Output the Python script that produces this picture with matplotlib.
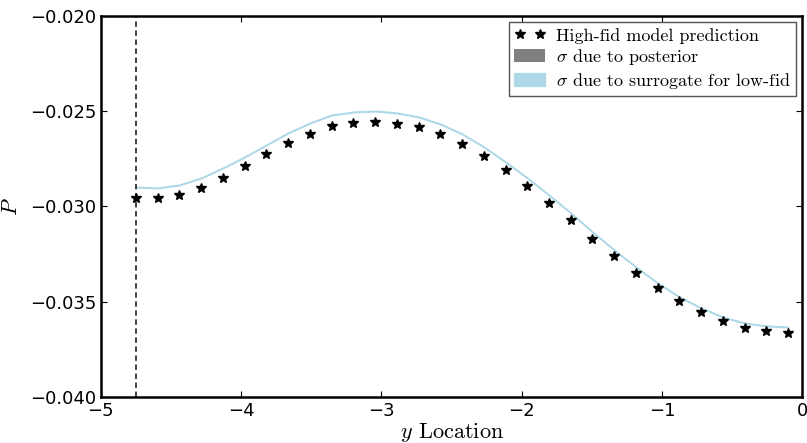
import numpy as np
import matplotlib
matplotlib.use('Agg')
import matplotlib.pyplot as plt

# y locations of the high-fid points (also where the low-fid mean is evaluated)
y_loc = [-4.75, -4.595, -4.44, -4.285, -4.13, -3.975, -3.82, -3.665, -3.51, -3.355,
         -3.2, -3.045, -2.89, -2.735, -2.58, -2.425, -2.27, -2.115, -1.96, -1.805,
         -1.65, -1.495, -1.34, -1.185, -1.03, -0.875, -0.72, -0.565, -0.41, -0.255, -0.1]

# high-fid model prediction
p_high = [-0.02955, -0.02955, -0.02939, -0.02903, -0.02850, -0.02787, -0.02724, -0.02667,
          -0.02619, -0.02577, -0.02562, -0.02556, -0.02567, -0.02583, -0.02619, -0.02672,
          -0.02735, -0.02808, -0.02892, -0.02982, -0.03071, -0.03171, -0.03260, -0.03349,
          -0.03428, -0.03496, -0.03554, -0.03601, -0.03638, -0.03654, -0.03665]

# low-fid posterior mean
p_mean = [-0.02898, -0.02903, -0.02887, -0.02850, -0.02798, -0.02740, -0.02677, -0.02614,
          -0.02562, -0.02520, -0.02504, -0.02499, -0.02509, -0.02530, -0.02567, -0.02619,
          -0.02687, -0.02766, -0.02850, -0.02940, -0.03034, -0.03134, -0.03228, -0.03318,
          -0.03402, -0.03475, -0.03533, -0.03580, -0.03612, -0.03627, -0.03633]

sig_post = 0.00001
sig_surr = 0.00002
y_bound = -4.75

plt.rcParams['mathtext.fontset'] = 'cm'
plt.rcParams['xtick.direction'] = 'in'
plt.rcParams['ytick.direction'] = 'in'
plt.rcParams['xtick.top'] = True
plt.rcParams['ytick.right'] = True
plt.rcParams['xtick.major.size'] = 4
plt.rcParams['ytick.major.size'] = 4

fig = plt.figure(figsize=(8.07, 4.43), dpi=100)
ax = fig.add_axes([0.125, 0.104, 0.869, 0.860])

x = np.array(y_loc)
m = np.array(p_mean)
ax.fill_between(x, m - sig_surr, m + sig_surr, facecolor='lightblue', lw=0.9,
                edgecolor='lightblue', label=r'$\sigma$ due to surrogate for low-fid', zorder=2)
ax.fill_between(x, m - sig_post, m + sig_post, color='grey', lw=0,
                label=r'$\sigma$ due to posterior', zorder=1)
ax.plot(y_loc, p_high, 'k*', ms=7, label='High-fid model prediction', zorder=3)
ax.axvline(y_bound, color='#333333', ls=(0, (3, 2)), lw=1.3)

ax.set_xlim(-5, 0)
ax.set_ylim(-0.040, -0.020)
ax.set_xticks([-5, -4, -3, -2, -1, 0])
ax.set_yticks([-0.040, -0.035, -0.030, -0.025, -0.020])
ax.tick_params(labelsize=13)
for s in ax.spines.values():
    s.set_linewidth(1.8)

ax.set_xlabel('$y$ Location', fontsize=16, family='cmr10', labelpad=1)
ax.set_ylabel('$P$', fontsize=16, labelpad=6)

h, l = ax.get_legend_handles_labels()
order = [2, 1, 0]
leg = ax.legend([h[i] for i in order], [l[i] for i in order], loc='upper right',
                numpoints=2, fancybox=False, prop={'family': 'cmr10', 'size': 13},
                handlelength=1.7, handletextpad=0.6, borderpad=0.3, labelspacing=0.2,
                borderaxespad=0.35, framealpha=1)
leg.get_frame().set_edgecolor('#555555')

fig.savefig('out.png', dpi=100)
